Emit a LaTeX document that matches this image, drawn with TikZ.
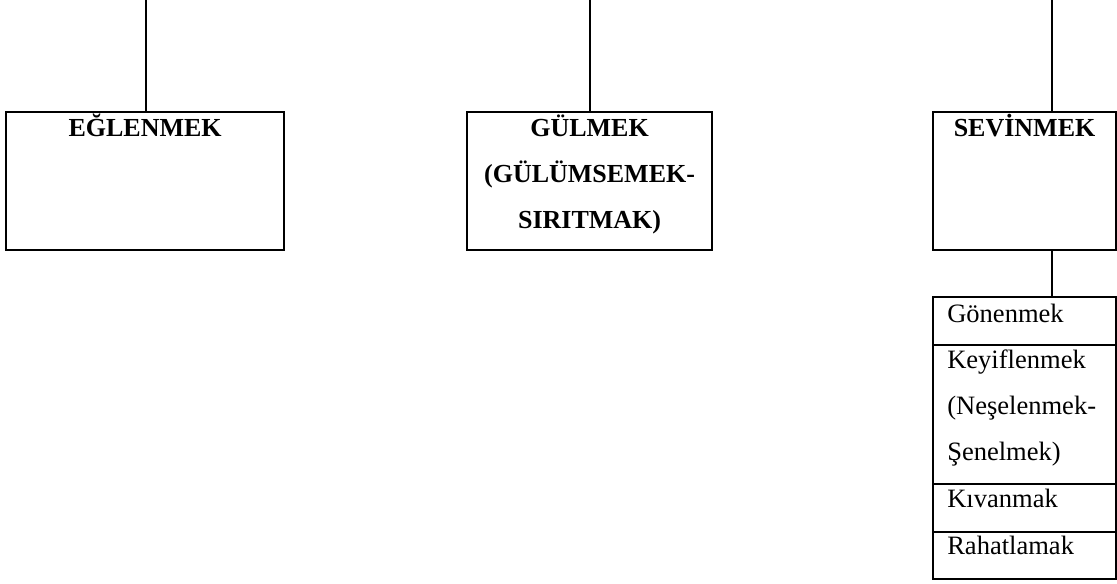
\documentclass[tikz,border=0pt]{standalone}
\usepackage{fontspec}
\setmainfont{Liberation Serif}
\newcommand\upx{*0.75pt}
\begin{document}
\begin{tikzpicture}[x=0.75pt,y=-0.75pt,
  box/.style={draw, line width=1.6pt, rectangle, inner sep=0pt, anchor=north west},
  conn/.style={line width=1.6pt},
  head/.style={font=\fontsize{19.5pt}{34.5pt}\selectfont\bfseries, align=center, anchor=base, inner sep=0pt},
  item/.style={font=\fontsize{19.9pt}{34.5pt}\selectfont, align=left, anchor=base west, inner sep=0pt}]
\useasboundingbox (0,0) rectangle (1117,583);
% top boxes
\node[box, minimum width={278\upx}, minimum height={138\upx}] (egl) at (5,111) {};
\node[box, minimum width={245\upx}, minimum height={138\upx}] (gul) at (466,111) {};
\node[box, minimum width={183\upx}, minimum height={138\upx}] (sev) at (932,111) {};
% heads (base anchor of a multi-line node is the baseline of its last line)
\node[head] (eglt) at ([yshift={-25\upx}]egl.north) {EĞLENMEK};
\node[head] (gult) at ([yshift={-117\upx}]gul.north) {GÜLMEK\\(GÜLÜMSEMEK-\\SIRITMAK)};
\node[head] (sevt) at ([yshift={-25\upx}]sev.north) {SEVİNMEK};
% list boxes
\node[box, minimum width={183\upx}, minimum height={48\upx}] (r1) at (932,296) {};
\node[box, minimum width={183\upx}, minimum height={139\upx}] (r2) at (932,344) {};
\node[box, minimum width={183\upx}, minimum height={48\upx}] (r3) at (932,483) {};
\node[box, minimum width={183\upx}, minimum height={47\upx}] (r4) at (932,531) {};
\node[item] (r1t) at ([xshift={15\upx},yshift={-26\upx}]r1.north west) {Gönenmek};
\node[item] (r2t) at ([xshift={15\upx},yshift={-116\upx}]r2.north west) {Keyiflenmek\\(Neşelenmek-\\Şenelmek)};
\node[item] (r3t) at ([xshift={15\upx},yshift={-24\upx}]r3.north west) {Kıvanmak};
\node[item] (r4t) at ([xshift={15\upx},yshift={-23\upx}]r4.north west) {Rahatlamak};
% connectors
\coordinate (c1) at (146,0);
\coordinate (c2) at (590,0);
\coordinate (c3) at (1052,0);
\draw[conn] (c1) -- (c1 |- egl.north);
\draw[conn] (c2) -- (c2 |- gul.north);
\draw[conn] (c3) -- (c3 |- sev.north);
\draw[conn] (c3 |- sev.south) -- (c3 |- r1.north);
\end{tikzpicture}
\end{document}
